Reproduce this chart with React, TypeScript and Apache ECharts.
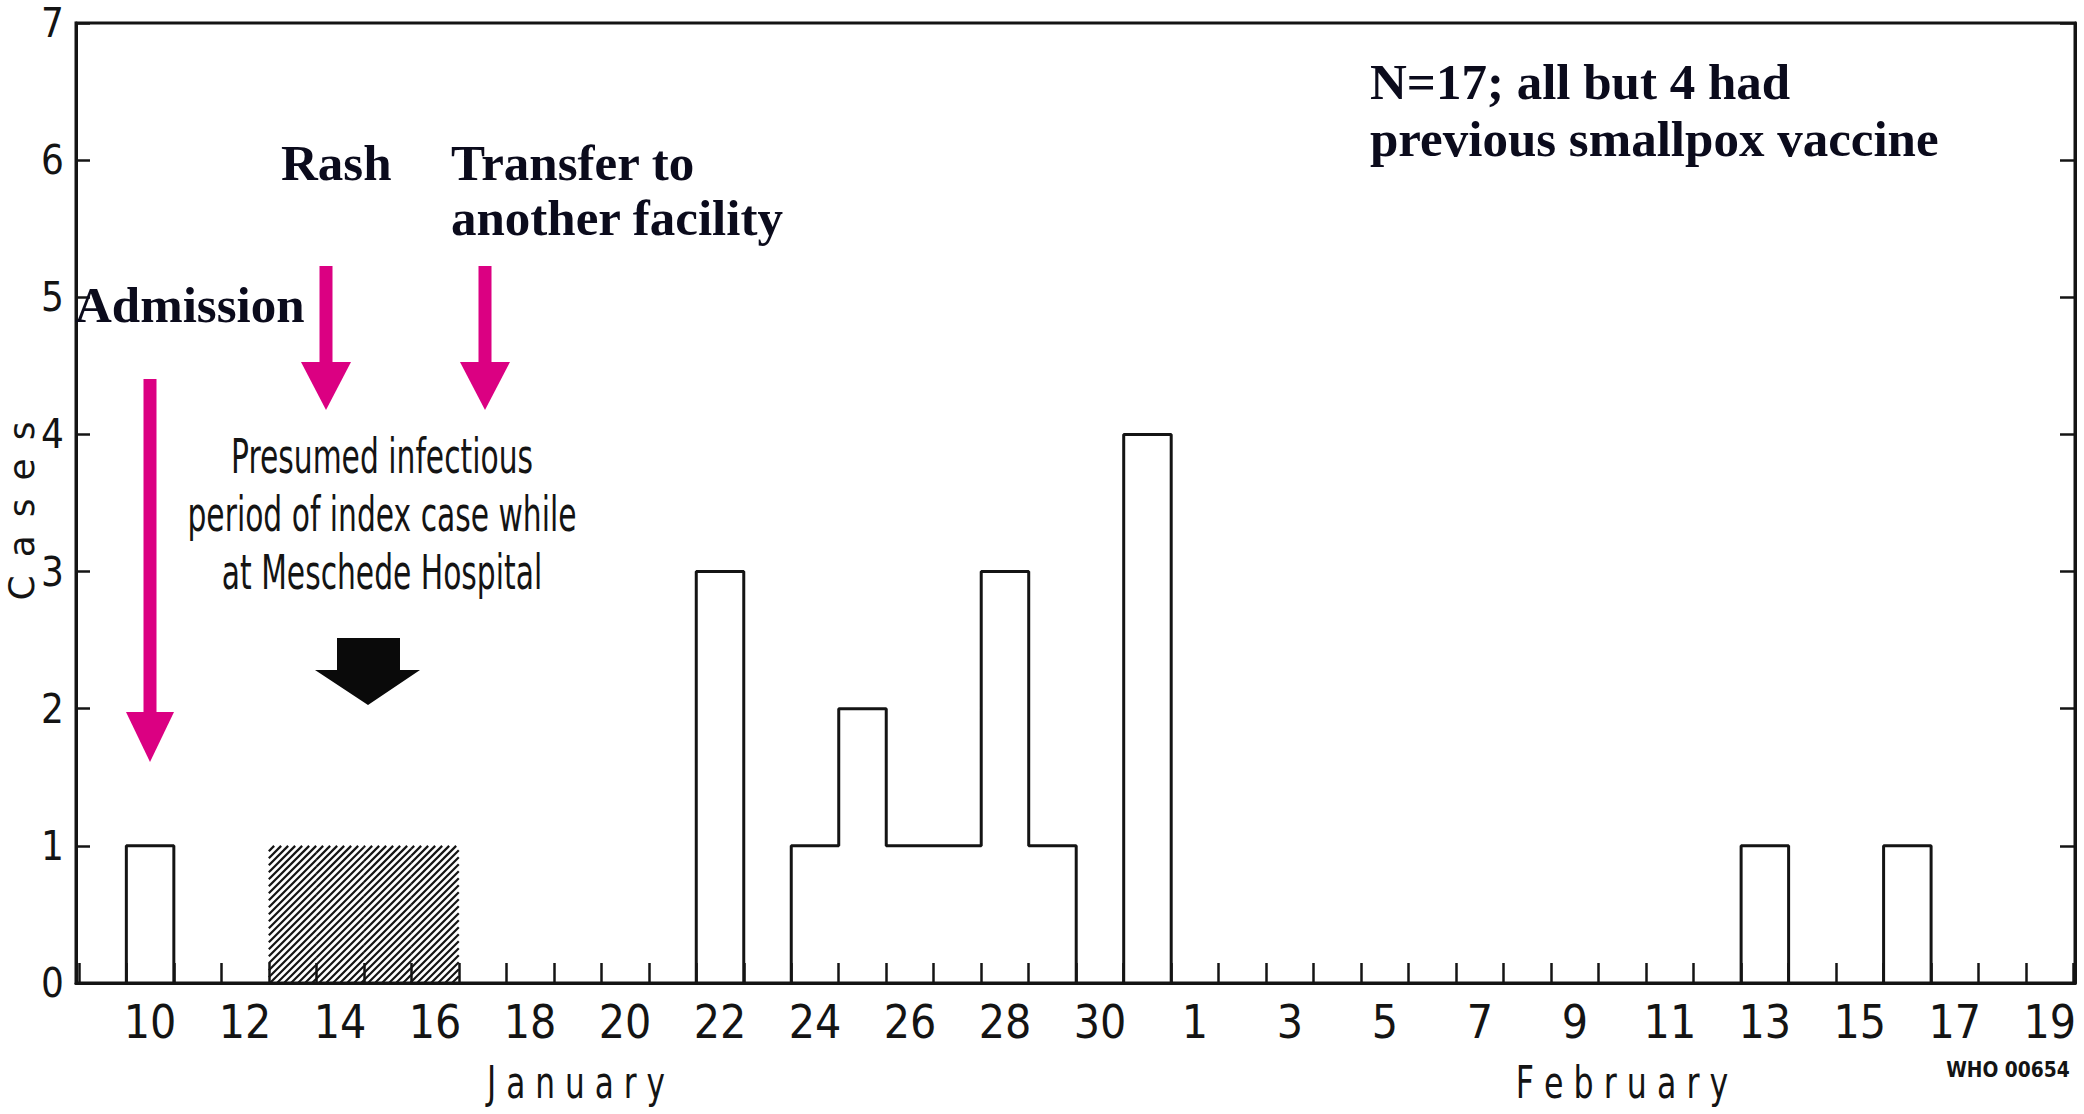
import React, { useEffect, useRef } from "react";
import * as echarts from "echarts";

// Day numbers counted from 1 January (1 Feb = 32)
const caseDays = [10, 22, 24, 25, 26, 27, 28, 29, 31, 44, 47];
const caseCounts = [1, 3, 1, 2, 1, 1, 3, 1, 4, 1, 1];
const infectiousDays = [13, 14, 15, 16];
const infectiousLevel = [1, 1, 1, 1];
const labelDays = [10, 12, 14, 16, 18, 20, 22, 24, 26, 28, 30, 32, 34, 36, 38, 40, 42, 44, 46, 48, 50];
const tickLabels = ["10", "12", "14", "16", "18", "20", "22", "24", "26", "28", "30", "1", "3", "5", "7", "9", "11", "13", "15", "17", "19"];
const xMin = 8.44;
const xMax = 50.53;

const INK = "#141414";
const MAGENTA = "#DB0082";
const NARROW = "'Liberation Sans Narrow', 'DejaVu Sans Condensed', 'DejaVu Sans', sans-serif";

function buildRuns(): number[][][] {
  const runs: number[][][] = [];
  let cur: number[][] = [];
  let last = -99;
  caseDays.forEach((d, i) => {
    const c = caseCounts[i];
    if (cur.length && d !== last + 1) {
      cur.push([last + 0.5, 0]);
      runs.push(cur);
      cur = [];
    }
    if (!cur.length) cur.push([d - 0.5, 0]);
    cur.push([d - 0.5, c], [d + 0.5, c]);
    last = d;
  });
  if (cur.length) {
    cur.push([last + 0.5, 0]);
    runs.push(cur);
  }
  return runs;
}

const tickPositions: number[] = [];
for (let t = Math.ceil(xMin - 0.5) + 0.5; t < xMax; t += 1) tickPositions.push(t);

const boldText = (text: string, x: number, y: number, lh: number) => ({
  type: "text",
  x,
  y,
  z: 20,
  style: {
    text,
    fill: "#0b0b1c",
    font: "bold 51px 'Liberation Serif', 'Times New Roman', serif",
    textAlign: "left",
    textVerticalAlign: "middle",
    lineHeight: lh,
    textShadowColor: "rgba(10,10,30,0.7)",
    textShadowOffsetX: 2,
    textShadowOffsetY: 2,
    textShadowBlur: 0,
  },
});

const magentaArrow = (cx: number, top: number, headTop: number, tip: number, shaftW: number, headW: number) => [
  {
    type: "rect",
    z: 15,
    shape: { x: cx - shaftW / 2, y: top, width: shaftW, height: headTop - top + 2 },
    style: { fill: MAGENTA },
  },
  {
    type: "polygon",
    z: 15,
    shape: { points: [[cx - headW / 2, headTop], [cx + headW / 2, headTop], [cx, tip]] },
    style: { fill: MAGENTA },
  },
];

export default function App() {
  const ref = useRef<HTMLDivElement>(null);
  useEffect(() => {
    if (!ref.current) return;
    const chart = echarts.init(ref.current, undefined, { renderer: "svg" });
    const runs = buildRuns();
    const option: any = {
      animation: false,
      backgroundColor: "#ffffff",
      grid: {
        left: 76,
        right: 9,
        top: 23,
        bottom: 131,
        show: true,
        borderColor: INK,
        borderWidth: 3,
        backgroundColor: "transparent",
      },
      xAxis: {
        type: "value",
        min: xMin,
        max: xMax,
        splitLine: { show: false },
        axisLine: { show: true, lineStyle: { color: INK, width: 3 } },
        axisTick: {
          show: true,
          inside: true,
          length: 20,
          lineStyle: { color: INK, width: 2.5 },
          customValues: tickPositions,
        },
        axisLabel: {
          show: true,
          margin: 16,
          color: INK,
          fontSize: 46,
          fontFamily: NARROW,
          customValues: labelDays,
          formatter: (v: number) => {
            const i = labelDays.indexOf(Math.round(v));
            return i >= 0 ? tickLabels[i] : "";
          },
        },
      },
      yAxis: [
        {
          type: "value",
          min: 0,
          max: 7,
          interval: 1,
          position: "left",
          splitLine: { show: false },
          axisLine: { show: true, lineStyle: { color: INK, width: 3 } },
          axisTick: { show: true, inside: true, length: 14, lineStyle: { color: INK, width: 2.5 } },
          axisLabel: { show: true, margin: 12, color: INK, fontSize: 40, fontFamily: NARROW },
        },
        {
          type: "value",
          min: 0,
          max: 7,
          interval: 1,
          position: "right",
          splitLine: { show: false },
          axisLine: { show: true, lineStyle: { color: INK, width: 3 } },
          axisTick: { show: true, inside: true, length: 15, lineStyle: { color: INK, width: 2.5 } },
          axisLabel: { show: false },
        },
      ],
      series: [
        {
          type: "custom",
          name: "Presumed infectious period",
          silent: true,
          z: 2,
          data: infectiousDays.map((d, i) => [d, infectiousLevel[i]]),
          renderItem: (params: any, api: any) => {
            const d = api.value(0);
            const v = api.value(1);
            const p0 = api.coord([d - 0.5, v]);
            const p1 = api.coord([d + 0.5, 0]);
            const x0 = p0[0], y0 = p0[1], x1 = p1[0], y1 = p1[1];
            const s = 7;
            const children: any[] = [];
            for (let c = Math.ceil((x0 + y0) / s) * s; c <= x1 + y1; c += s) {
              const lo = Math.max(x0, c - y1);
              const hi = Math.min(x1, c - y0);
              if (hi > lo) {
                children.push({
                  type: "line",
                  shape: { x1: lo, y1: c - lo, x2: hi, y2: c - hi },
                  style: { stroke: INK, lineWidth: 2.2 },
                });
              }
            }
            return { type: "group", children };
          },
        },
        ...runs.map((r, i) => ({
          type: "line",
          name: "Cases " + i,
          data: r,
          symbol: "none",
          silent: true,
          z: 3,
          lineStyle: { color: INK, width: 3 },
        })),
      ],
      graphic: [
        ...magentaArrow(150, 379, 712, 762, 13, 48),
        ...magentaArrow(326, 266, 362, 410, 13, 50),
        ...magentaArrow(485, 266, 362, 410, 13, 50),
        boldText("Admission", 75, 305, 55),
        boldText("Rash", 281, 163, 55),
        boldText("Transfer to\nanother facility", 451, 190, 55),
        {
          type: "text",
          x: 1370,
          y: 110,
          z: 20,
          style: {
            text: "N=17; all but 4 had\nprevious smallpox vaccine",
            fill: "#0b0b1c",
            font: "bold 51px 'Liberation Serif', 'Times New Roman', serif",
            textAlign: "left",
            textVerticalAlign: "middle",
            lineHeight: 57,
          },
        },
        {
          type: "text",
          x: 382,
          y: 514,
          scaleX: 0.62,
          z: 20,
          style: {
            text: "Presumed infectious\nperiod of index case while\nat Meschede Hospital",
            fill: INK,
            font: "48px 'DejaVu Sans', sans-serif",
            textAlign: "center",
            textVerticalAlign: "middle",
            lineHeight: 58,
          },
        },
        {
          type: "polygon",
          z: 20,
          shape: {
            points: [[337, 638], [400, 638], [400, 670], [420, 670], [368, 705], [315, 670], [337, 670]],
          },
          style: { fill: "#0a0a0a" },
        },
        {
          type: "text",
          x: 21,
          y: 511,
          rotation: Math.PI / 2,
          z: 20,
          style: {
            text: "C\u2002a\u2002s\u2002e\u2002s",
            fill: INK,
            font: "36px 'DejaVu Sans', sans-serif",
            textAlign: "center",
            textVerticalAlign: "middle",
          },
        },
        {
          type: "text",
          x: 576,
          y: 1083,
          scaleX: 0.71,
          z: 20,
          style: {
            text: "J a n u a r y",
            fill: INK,
            font: "44px 'DejaVu Sans', sans-serif",
            textAlign: "center",
            textVerticalAlign: "middle",
          },
        },
        {
          type: "text",
          x: 1622,
          y: 1083,
          scaleX: 0.72,
          z: 20,
          style: {
            text: "F e b r u a r y",
            fill: INK,
            font: "44px 'DejaVu Sans', sans-serif",
            textAlign: "center",
            textVerticalAlign: "middle",
          },
        },
        {
          type: "text",
          x: 2008,
          y: 1069,
          scaleX: 0.85,
          z: 20,
          style: {
            text: "WHO 00654",
            fill: INK,
            font: "bold 22px 'DejaVu Sans', sans-serif",
            textAlign: "center",
            textVerticalAlign: "middle",
          },
        },
      ],
    };
    chart.setOption(option);
    return () => chart.dispose();
  }, []);
  return (
    <div
      ref={ref}
      style={{ position: "fixed", left: 0, top: 0, width: 2084, height: 1114, background: "#fff" }}
    />
  );
}
